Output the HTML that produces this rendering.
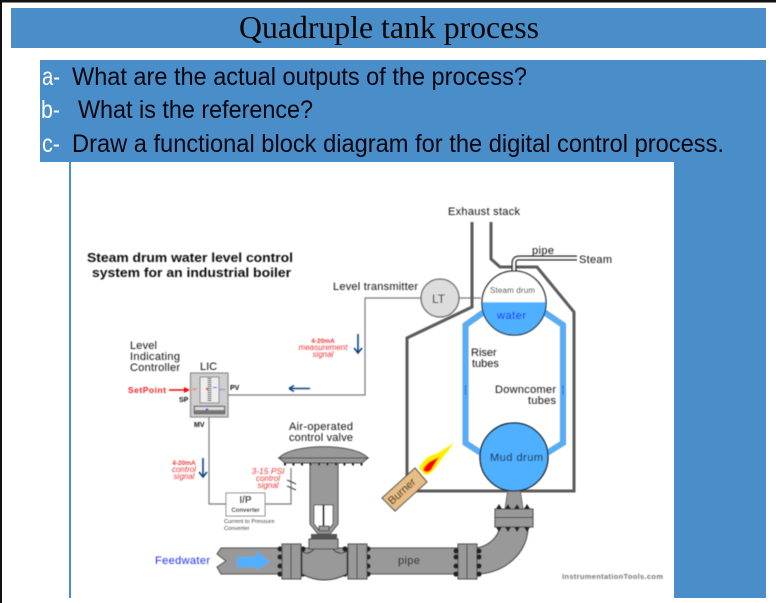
<!DOCTYPE html>
<html><head><meta charset="utf-8"><style>
html,body{margin:0;padding:0;background:#fff;width:776px;height:603px;overflow:hidden}
svg{display:block}
text{font-family:"Liberation Sans",sans-serif}
</style></head><body>
<svg width="776" height="603" viewBox="0 0 776 603" xmlns="http://www.w3.org/2000/svg">
<defs><filter id="b" x="0" y="0" width="100%" height="100%"><feGaussianBlur stdDeviation="0.4"/></filter></defs>
<rect width="776" height="603" fill="#fff"/>
<rect width="776" height="2.5" fill="#111"/>
<rect width="2" height="603" fill="#111"/>
<rect x="11" y="8" width="755" height="40" fill="#4a8ec9"/>
<rect x="40" y="60" width="726" height="102" fill="#4a8ec9"/>
<rect x="674" y="160" width="92" height="438" fill="#4a8ec9"/>
<rect x="69" y="162" width="2" height="436" fill="#4a8ec9"/>
<text x="239" y="38" font-size="32" textLength="300" lengthAdjust="spacingAndGlyphs" style="font-family:'Liberation Serif',serif" fill="#050505">Quadruple tank process</text>
<g font-size="25" fill="#05050f">
<text x="42" y="85" fill="#fff" textLength="18" lengthAdjust="spacingAndGlyphs">a-</text>
<text x="72" y="85" textLength="455" lengthAdjust="spacingAndGlyphs">What are the actual outputs of the process?</text>
<text x="41" y="118" fill="#fff" textLength="19" lengthAdjust="spacingAndGlyphs">b-</text>
<text x="78" y="118" textLength="235" lengthAdjust="spacingAndGlyphs">What is the reference?</text>
<text x="42" y="152" fill="#fff" textLength="18" lengthAdjust="spacingAndGlyphs">c-</text>
<text x="72" y="152" textLength="652" lengthAdjust="spacingAndGlyphs">Draw a functional block diagram for the digital control process.</text>
</g>

<g filter="url(#b)">
<!-- signal lines -->
<g fill="none" stroke="#7a7a7a" stroke-width="1.2">
<path d="M228 395H365V298H421M459 298H481"/>
<path d="M209 417V504H226M265 504H291V468"/>
<path d="M287 480L296 484M287 486L296 490" stroke="#444"/>
</g>
<!-- furnace -->
<path d="M472 222V307L407 338V491H574V312L537 267H500L491 259V222" fill="none" stroke="#5a5a5a" stroke-width="3"/>
<!-- tubes -->
<g fill="none" stroke-linejoin="miter">
<path d="M484 312L465.500 325V443L481 453M544 312L563 325V443L547 453" stroke="#888" stroke-width="6"/>
<path d="M484 312L465.500 325V443L481 453M544 312L563 325V443L547 453" stroke="#4fb0ff" stroke-width="5"/>
</g>
<path d="M465.500 385V395M563 385V395" stroke="#1a5cff" stroke-width="1"/>
<!-- steam pipe -->
<path d="M514 274V263Q514 258 519 258H577" fill="none" stroke="#222" stroke-width="5"/>
<path d="M514 274V263Q514 258 519 258H577" fill="none" stroke="#fff" stroke-width="2"/>
<!-- steam drum -->
<circle cx="514" cy="303" r="32" fill="#fff" stroke="#111" stroke-width="1.300"/>
<path d="M482 303H546A32 32 0 0 1 482 303Z" fill="#4fb0ff" stroke="#111" stroke-width="0.800"/>
<path d="M482.500 303H545.500" stroke="#4fb0ff" stroke-width="1.500"/>
<!-- LT -->
<circle cx="440" cy="298" r="19" fill="#ddd" stroke="#666" stroke-width="1.300"/>
<!-- piping, elbow -->
<path d="M508 489L520 489L523 509H505Z" fill="#999" stroke="#666"/>
<path d="M500 527C498 538 488 546 477 548V574C506 573 528 552 528 527Z" fill="#999" stroke="#333"/>
<path d="M221 548H458V574H221L217 567L226 561L217 554Z" fill="#999" stroke="#444"/>
<rect x="495" y="509" width="38" height="18" fill="#999" stroke="#444"/>
<path d="M495 517.500H533" stroke="#444"/>
<rect x="458" y="544" width="19" height="35" fill="#999" stroke="#444"/>
<path d="M467 544V579" stroke="#444"/>
<g fill="#222">
<path d="M496 509l3-5 3 5zM505 509l3-5 3 5zM514 509l3-5 3 5zM524 509l3-5 3 5zM496 527l3 5 3-5zM505 527l3 5 3-5zM514 527l3 5 3-5zM524 527l3 5 3-5z"/>
<circle cx="456" cy="551" r="2.600"/><circle cx="456" cy="557" r="2.600"/><circle cx="456" cy="566" r="2.600"/><circle cx="456" cy="574" r="2.600"/>
<circle cx="479" cy="551" r="2.600"/><circle cx="479" cy="557" r="2.600"/><circle cx="479" cy="566" r="2.600"/><circle cx="479" cy="574" r="2.600"/>
<circle cx="280" cy="549" r="2.600"/><circle cx="280" cy="557" r="2.600"/><circle cx="280" cy="566" r="2.600"/><circle cx="280" cy="574" r="2.600"/>
<circle cx="303" cy="549" r="2.600"/><circle cx="303" cy="557" r="2.600"/><circle cx="303" cy="566" r="2.600"/><circle cx="303" cy="574" r="2.600"/>
<circle cx="345" cy="549" r="2.600"/><circle cx="345" cy="557" r="2.600"/><circle cx="345" cy="566" r="2.600"/><circle cx="345" cy="574" r="2.600"/>
<circle cx="368" cy="549" r="2.600"/><circle cx="368" cy="557" r="2.600"/><circle cx="368" cy="566" r="2.600"/><circle cx="368" cy="574" r="2.600"/>
</g>
<!-- valve -->
<path d="M302 551Q308 556 314 549H333Q339 556 347 551V574Q324 586 302 574Z" fill="#999" stroke="#333"/>
<rect x="282" y="544" width="19" height="35" fill="#999" stroke="#444"/>
<rect x="348" y="544" width="19" height="35" fill="#999" stroke="#444"/>
<path d="M291 544V579M357 544V579" stroke="#444"/>
<path d="M310 463H338V524L330 534H318L310 524Z" fill="#999" stroke="#444"/>
<path d="M314 505H333V524L328 530H319L314 524Z" fill="#fff" stroke="#444"/>
<path d="M323.500 505V526" stroke="#000" stroke-width="2"/>
<rect x="319" y="526" width="10" height="5" fill="#999" stroke="#444"/>
<rect x="311" y="534" width="26" height="5" fill="#555"/>
<rect x="309" y="539" width="29" height="10" fill="#999" stroke="#444"/>
<path d="M279 458C292 443 355 443 368 458Z" fill="#999" stroke="#444"/>
<path d="M279 458H368L362 463H285Z" fill="#999" stroke="#444"/>
<path d="M284 464H364" stroke="#222" stroke-width="3" stroke-dasharray="2 6.500"/>
<!-- mud drum -->
<circle cx="514" cy="457" r="34" fill="#4fb0ff" stroke="#111" stroke-width="1.300"/>
<!-- burner -->
<path d="M419 468Q425 456 436 454L454 443L440 461Q432 475 425 475Z" fill="#ffee00"/>
<path d="M423 470Q426 463 433 460L439 457L431 470Q427 474 423 470Z" fill="#f00"/>
<path d="M382 498L415 468L427 482L395 511Z" fill="#e7bd85" stroke="#444"/>
<!-- LIC -->
<rect x="190.500" y="373" width="37.500" height="44" fill="#cfcfcf" stroke="#888" stroke-width="1.200"/>
<rect x="200" y="377" width="19" height="26" fill="#eee" stroke="#666" stroke-width="0.800"/>
<path d="M209.500 378V402" stroke="#333" stroke-width="4" stroke-dasharray="1 1"/>
<rect x="194" y="406" width="31" height="8" fill="#777" stroke="#555" stroke-width="0.600"/>
<rect x="195" y="407" width="29" height="3" fill="#ddd"/>
<circle cx="207" cy="389" r="1.200" fill="#f00"/>
<path d="M217 387.500h-4" stroke="#11f" stroke-width="1"/>
<circle cx="207" cy="409.500" r="1.300" fill="#a020f0"/>
<!-- arrows -->
<path d="M169 390H187" stroke="#f00" stroke-width="1.400"/><path d="M190 390L184 387V393Z" fill="#f00"/>
<path d="M310 388.500H289" stroke="#0e3f80" stroke-width="1.500"/><path d="M289 388.500L294 385.500M289 388.500L294 391.500" stroke="#0e3f80" stroke-width="1.500"/>
<path d="M358 334V353M354 348L358 353L362 348" fill="none" stroke="#0e3f80" stroke-width="1.600"/>
<path d="M203 458V477M199 472L203 477L207 472" fill="none" stroke="#0e3f80" stroke-width="1.600"/>
<path d="M237 557H256V551L270 562L256 570V567H237Z" fill="#4fb0ff"/>
<!-- I/P -->
<rect x="226" y="493" width="39" height="23" fill="#fff" stroke="#888" stroke-width="1"/>
<!-- labels -->
<g fill="#111" font-size="11">
<text x="87" y="262" font-size="12.500" font-weight="bold" textLength="206" lengthAdjust="spacingAndGlyphs">Steam drum water level control</text>
<text x="92" y="277" font-size="12.500" font-weight="bold" textLength="199" lengthAdjust="spacingAndGlyphs">system for an industrial boiler</text>
<text x="333" y="290" textLength="85">Level transmitter</text>
<text x="448" y="215" textLength="72">Exhaust stack</text>
<text x="532" y="254" textLength="22">pipe</text>
<text x="579" y="263" textLength="33">Steam</text>
<text x="432" y="303" font-size="12">LT</text>
<text x="490" y="293" font-size="8" textLength="45">Steam drum</text>
<text x="497" y="319" font-size="11" fill="#1024ee" textLength="29">water</text>
<text x="471" y="356">Riser</text><text x="472" y="367">tubes</text>
<text x="495" y="393" textLength="61">Downcomer</text><text x="528" y="404" textLength="28">tubes</text>
<text x="490" y="461" textLength="53">Mud drum</text>
<text transform="translate(392 505) rotate(-42)" font-size="11" textLength="33">Burner</text>
<text x="398" y="564" textLength="22">pipe</text>
<text x="562" y="579" font-size="7.500" font-weight="bold" fill="#777" textLength="101" lengthAdjust="spacing">InstrumentationTools.com</text>
<text x="130" y="349" textLength="27">Level</text>
<text x="130" y="360" textLength="50">Indicating</text>
<text x="130" y="371" textLength="50">Controller</text>
<text x="200" y="370">LIC</text>
<text x="289" y="430" textLength="64">Air-operated</text>
<text x="289" y="441" textLength="64">control valve</text>
<text x="155" y="564" fill="#1f30ff" textLength="55">Feedwater</text>
<text x="128" y="393" font-size="8.500" font-weight="bold" fill="#f02020" textLength="38">SetPoint</text>
<text x="179" y="402" font-size="7" font-weight="bold">SP</text>
<text x="230" y="390" font-size="7" font-weight="bold">PV</text>
<text x="194" y="427" font-size="7" font-weight="bold">MV</text>
<text x="192" y="390.500" font-size="4" fill="#f03030">SP</text>
<text x="220" y="391" font-size="4" fill="#2b3cff">PV</text>
<g text-anchor="middle" fill="#f03535">
<text x="323" y="343" font-size="6.500" font-weight="bold">4-20mA</text>
<text x="323" y="350" font-size="8" font-style="italic">measurement</text>
<text x="323" y="357" font-size="8" font-style="italic">signal</text>
<text x="184" y="465" font-size="6.500" font-weight="bold">4-20mA</text>
<text x="184" y="472" font-size="8" font-style="italic">control</text>
<text x="184" y="479" font-size="8" font-style="italic">signal</text>
<text x="268" y="474" font-size="8.500" font-style="italic">3-15 PSI</text>
<text x="268" y="481" font-size="8" font-style="italic">control</text>
<text x="268" y="488" font-size="8" font-style="italic">signal</text>
</g>
<text x="245.500" y="503" font-size="10" font-weight="bold" text-anchor="middle">I/P</text>
<text x="245.500" y="512" font-size="6" font-weight="bold" text-anchor="middle">Converter</text>
<text x="224" y="523" font-size="5.800" fill="#444">Current to Pressure</text>
<text x="224" y="530" font-size="5.800" fill="#444">Converter</text>
</g>
</g>
</svg>
</body></html>
